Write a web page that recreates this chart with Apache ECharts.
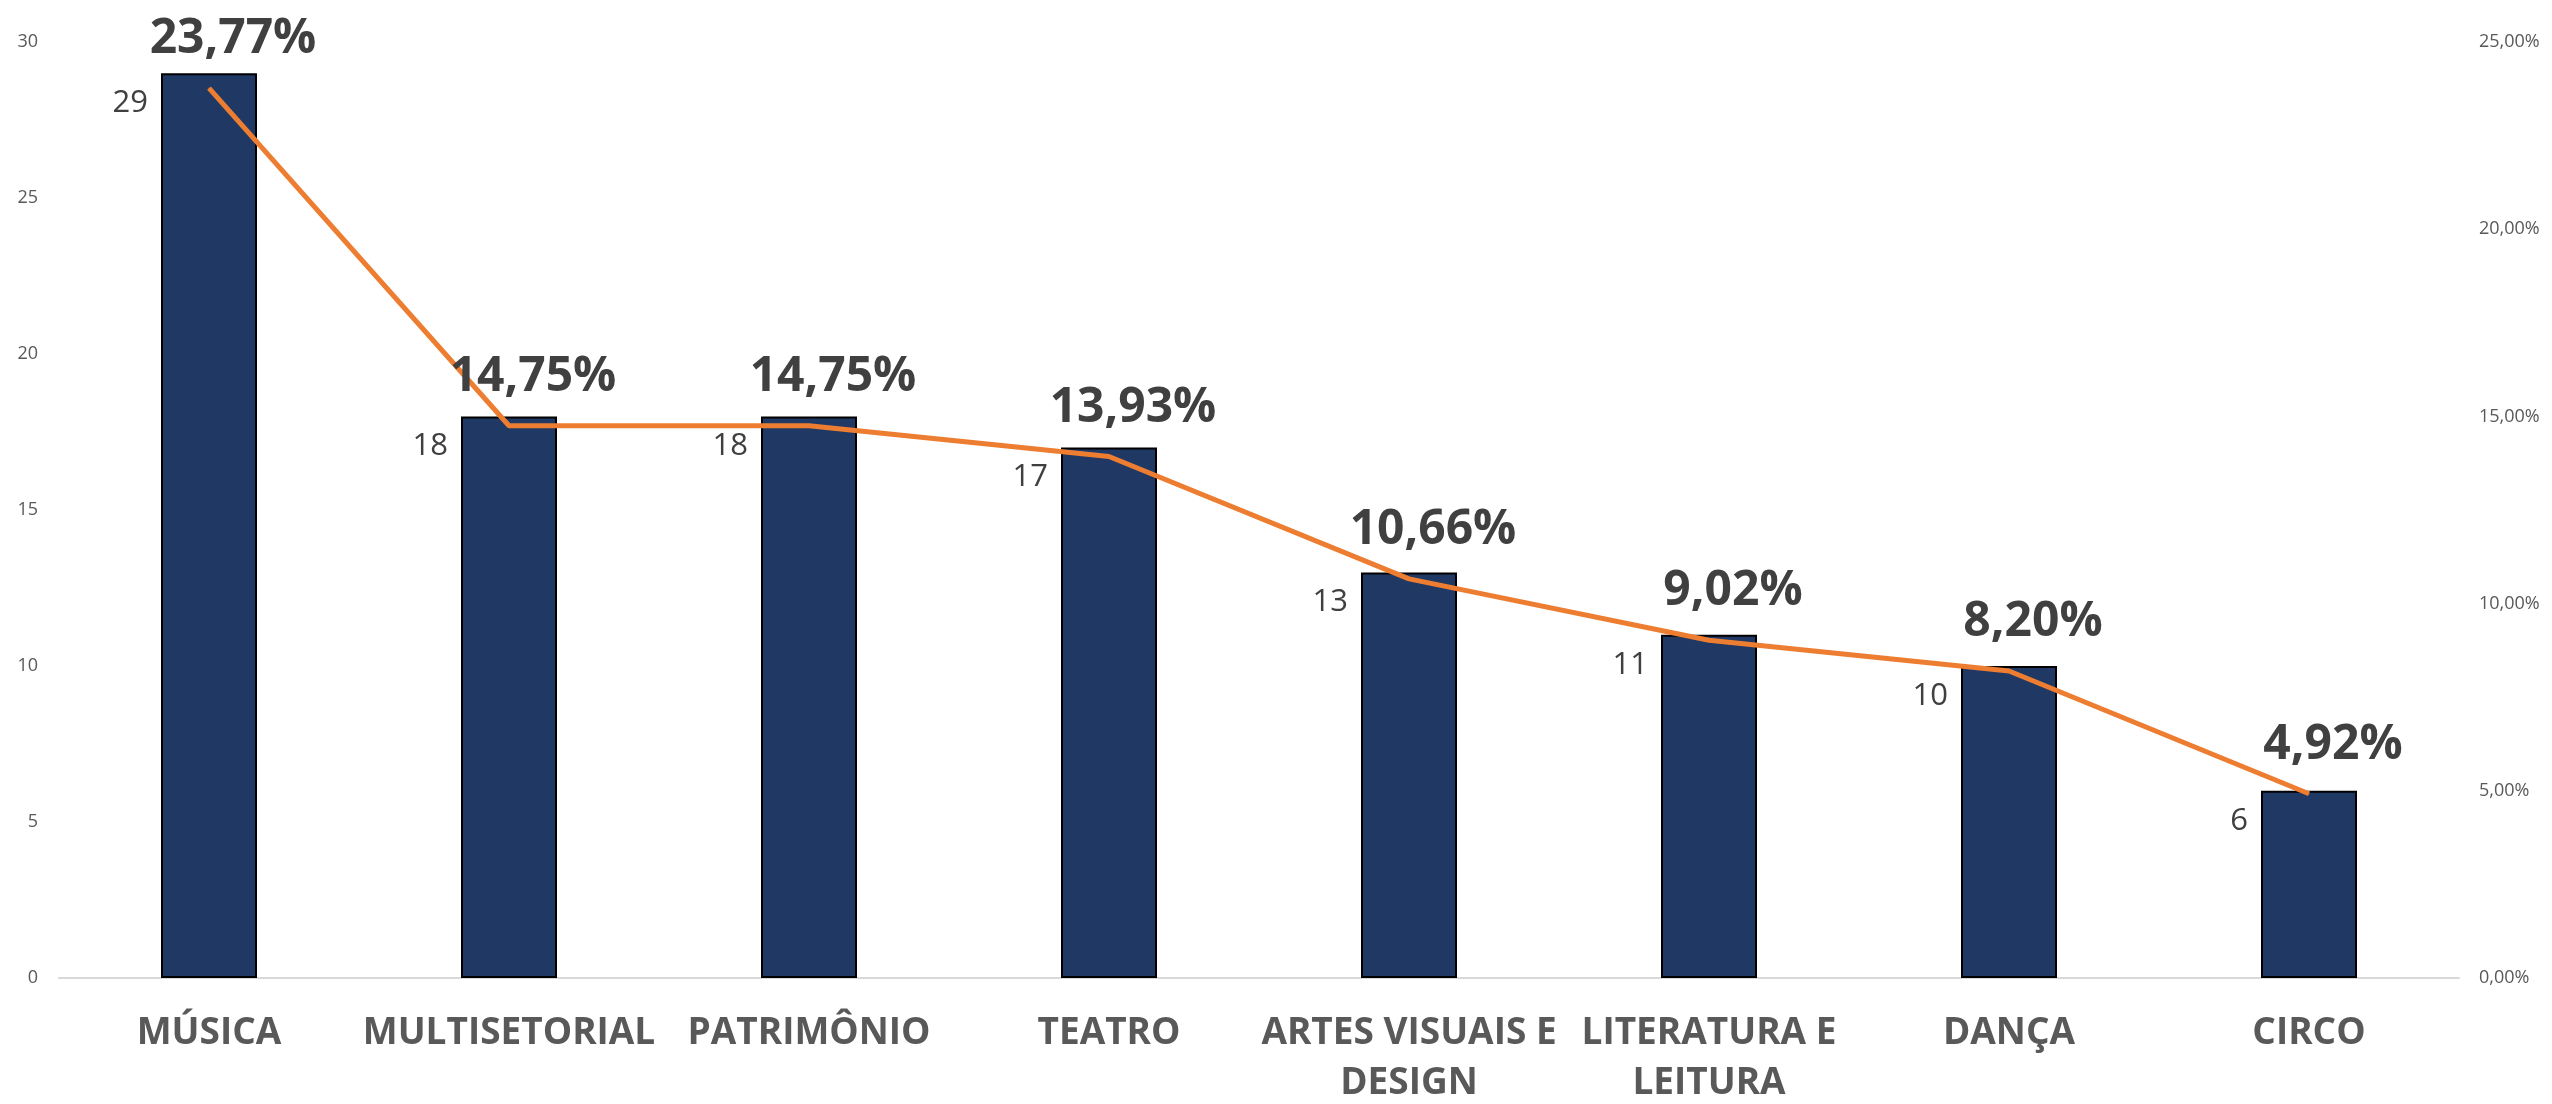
<!DOCTYPE html>
<html>
<head>
<meta charset="utf-8">
<script src="https://cdn.jsdelivr.net/npm/echarts@6/dist/echarts.min.js"></script>
<style>
html, body { margin: 0; padding: 0; background: #fff; }
#chart { width: 2552px; height: 1104px; }
</style>
</head>
<body>
<div id="chart"></div>
<script>
// categorias
var categories = ['MÚSICA', 'MULTISETORIAL', 'PATRIMÔNIO', 'TEATRO', 'ARTES VISUAIS E DESIGN', 'LITERATURA E LEITURA', 'DANÇA', 'CIRCO']
// quantidade de projetos
var counts = [29, 18, 18, 17, 13, 11, 10, 6]
// percentual
var percents = [23.77, 14.75, 14.75, 13.93, 10.66, 9.02, 8.20, 4.92]

var fontFamily = '"Open Sans", "Noto Sans", sans-serif'

function pct(v, d) {
  return v.toFixed(d).replace('.', ',') + '%'
}

var myChart = echarts.init(document.getElementById('chart'))
myChart.setOption({
  animation: false,
  textStyle: { fontFamily: fontFamily },
  grid: { left: 59, right: 93, top: 42, bottom: 126, outerBoundsMode: 'none' },
  xAxis: {
    type: 'category',
    data: categories,
    axisLine: { lineStyle: { color: '#D9D9D9', width: 2 } },
    axisTick: { show: false },
    axisLabel: {
      interval: 0,
      margin: 30,
      color: '#595959',
      fontWeight: 'bold',
      fontSize: 37,
      lineHeight: 50,
      fontFamily: fontFamily,
      formatter: function (v) { return v.replace(' E ', ' E\n') }
    }
  },
  yAxis: [
    {
      type: 'value',
      min: 0,
      max: 30,
      interval: 5,
      splitLine: { show: false },
      axisLine: { show: false },
      axisLabel: { color: '#595959', fontSize: 18, margin: 21 }
    },
    {
      type: 'value',
      min: 0,
      max: 25,
      interval: 5,
      splitLine: { show: false },
      axisLine: { show: false },
      axisLabel: {
        color: '#595959',
        fontSize: 18,
        margin: 20,
        formatter: function (v) { return pct(v, 2) }
      }
    }
  ],
  series: [
    {
      name: 'Projetos',
      type: 'bar',
      data: counts,
      barWidth: '32%',
      itemStyle: { color: '#203864', borderColor: '#000', borderWidth: 2 },
      label: {
        show: true,
        position: [-13, 30],
        align: 'right',
        verticalAlign: 'middle',
        color: '#404040',
        fontSize: 31
      }
    },
    {
      name: 'Percentual',
      type: 'line',
      yAxisIndex: 1,
      data: percents,
      symbol: 'circle',
      symbolSize: 1,
      showSymbol: true,
      itemStyle: { color: '#ED7D31' },
      lineStyle: { color: '#ED7D31', width: 5 },
      label: {
        show: true,
        position: 'top',
        distance: 24,
        offset: [24, 0],
        color: '#404040',
        fontSize: 48,
        fontWeight: 'bold',
        formatter: function (p) { return pct(p.value, 2) }
      },
      z: 3
    }
  ]
})
</script>
</body>
</html>
